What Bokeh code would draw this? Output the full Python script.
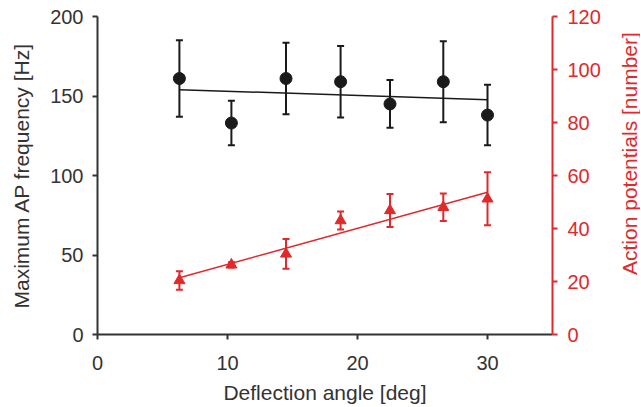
import math
from bokeh.plotting import figure
from bokeh.layouts import row
from bokeh.models import Range1d, LinearAxis, ColumnDataSource, Whisker, TeeHead, FixedTicker, Label
from bokeh.embed import file_html
from bokeh.resources import INLINE

# Data
angle = [6.3, 10.3, 14.5, 18.7, 22.5, 26.6, 30.0]
freq_mean = [161, 133, 161, 159, 145, 159, 138]
freq_err = [24, 14, 22.5, 22.5, 15, 25.5, 19]
ap_mean = [20.4, 26.3, 30.4, 43.0, 46.8, 48.0, 51.2]
ap_err = [3.5, 1.0, 5.6, 3.4, 6.2, 5.2, 10.0]
fit_x = [6.3, 30.0]
freq_fit = [154.0, 147.6]
ap_fit = [21.4, 53.7]

x_ticks = [0, 10, 20, 30]
y_ticks = [0, 50, 100, 150, 200]
y2_ticks = [0, 20, 40, 60, 80, 100, 120]
y2_title = "Action potentials [number]"

BLACK = "#1a1a1a"
AXC = "#333333"
RED = "#e0292b"
FONT = "Liberation Sans"

H = 406
p = figure(width=618, height=H, output_backend="svg", toolbar_location=None,
           x_range=Range1d(0, 35), y_range=Range1d(0, 200),
           min_border_left=97, min_border_right=66, min_border_top=16, min_border_bottom=72)
p.outline_line_color = None
p.grid.visible = False
p.extra_y_ranges = {"ap": Range1d(0, 120)}

src_f = ColumnDataSource(dict(x=angle, y=freq_mean,
                              lo=[m - e for m, e in zip(freq_mean, freq_err)],
                              hi=[m + e for m, e in zip(freq_mean, freq_err)]))
src_a = ColumnDataSource(dict(x=angle, y=ap_mean,
                              lo=[m - e for m, e in zip(ap_mean, ap_err)],
                              hi=[m + e for m, e in zip(ap_mean, ap_err)]))

p.add_layout(Whisker(source=src_f, base="x", lower="lo", upper="hi", line_color=BLACK, line_width=2,
                     upper_head=TeeHead(size=7, line_color=BLACK, line_width=2),
                     lower_head=TeeHead(size=7, line_color=BLACK, line_width=2)))
p.line(fit_x, freq_fit, line_color=BLACK, line_width=1.5)
p.scatter("x", "y", source=src_f, marker="circle", size=12, fill_color=BLACK, line_color=BLACK)

p.add_layout(Whisker(source=src_a, base="x", lower="lo", upper="hi", line_color=RED, line_width=2,
                     y_range_name="ap",
                     upper_head=TeeHead(size=7, line_color=RED, line_width=2),
                     lower_head=TeeHead(size=7, line_color=RED, line_width=2)))
p.line(fit_x, ap_fit, line_color=RED, line_width=1.5, y_range_name="ap")
p.scatter("x", "y", source=src_a, marker="triangle", size=11, fill_color=RED, line_color=RED,
          y_range_name="ap")

def style(ax, color, ticks):
    ax.ticker = FixedTicker(ticks=ticks)
    ax.axis_line_color = color
    ax.axis_line_width = 2
    ax.major_tick_line_color = color
    ax.major_tick_line_width = 2
    ax.major_tick_out = 5
    ax.major_tick_in = 0
    ax.minor_tick_line_color = None
    ax.major_label_text_color = color
    ax.major_label_text_font = FONT
    ax.major_label_text_font_size = "20px"
    ax.axis_label_text_color = color
    ax.axis_label_text_font = FONT
    ax.axis_label_text_font_size = "21px"
    ax.axis_label_text_font_style = "normal"

style(p.xaxis[0], AXC, x_ticks)
p.xaxis[0].axis_label = "Deflection angle [deg]"
p.xaxis[0].major_label_standoff = 16
p.xaxis[0].axis_label_standoff = 8
style(p.yaxis[0], AXC, y_ticks)
p.yaxis[0].axis_label = "Maximum AP frequency [Hz]"
p.yaxis[0].major_label_standoff = 9
p.yaxis[0].axis_label_standoff = 14

ax2 = LinearAxis(y_range_name="ap")
style(ax2, RED, y2_ticks)
ax2.major_label_standoff = 10
p.add_layout(ax2, "right")

# narrow side figure that carries the right-hand axis title (reading bottom-to-top)
p2 = figure(width=22, height=H, output_backend="svg", toolbar_location=None,
            x_range=Range1d(0, 1), y_range=Range1d(0, H),
            x_axis_location=None, y_axis_location=None,
            min_border_left=0, min_border_right=0, min_border_top=0, min_border_bottom=0)
p2.outline_line_color = None
p2.grid.visible = False
p2.add_layout(Label(x=0.5, y=H - 175, text=y2_title,
                    angle=math.pi / 2, angle_units="rad", text_align="center",
                    text_baseline="middle", text_color=RED, text_font=FONT,
                    text_font_size="21px"))

layout = row(p, p2, spacing=0)
open("out.html", "w").write(file_html(layout, INLINE))
